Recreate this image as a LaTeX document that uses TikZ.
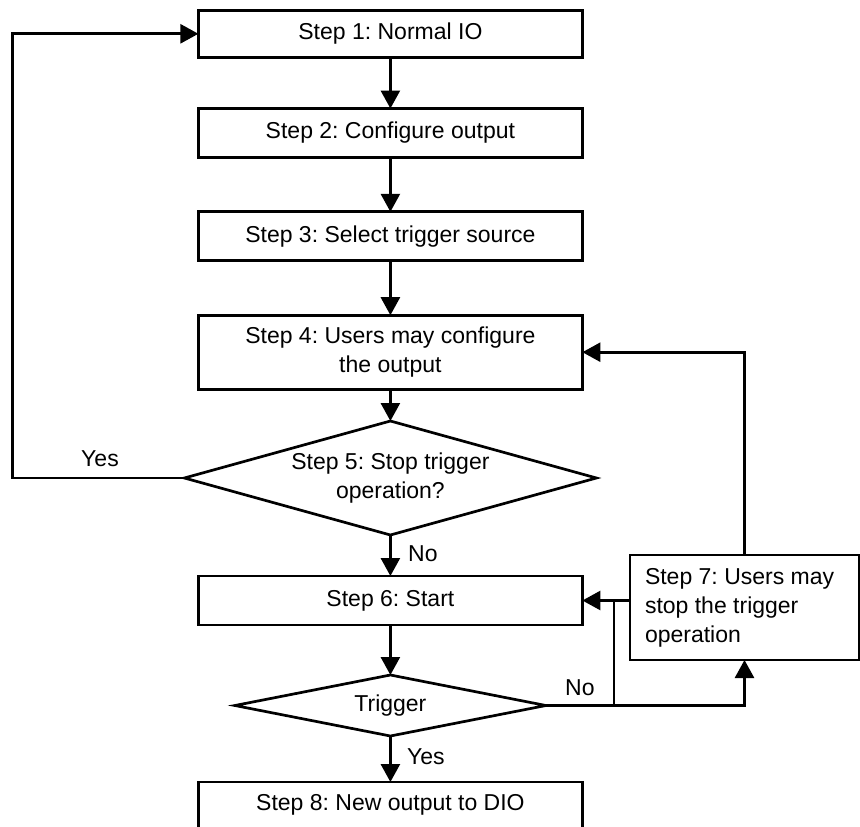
\documentclass[tikz,border=0pt]{standalone}
\usepackage{fontspec}
\setmainfont{Liberation Sans}
\usetikzlibrary{arrows.meta,shapes.geometric}
\frenchspacing
\begin{document}
\begin{tikzpicture}[x=1pt,y=-1pt,
  every node/.style={font=\fontsize{23}{29}\selectfont\frenchspacing},
  box/.style={draw, line width=2.7pt, rectangle, minimum width=384pt, inner sep=0pt, outer sep=0pt, align=center},
  dia/.style={draw, line width=2.7pt, diamond, inner sep=0pt, outer sep=0pt},
  arr/.style={line width=2.7pt, -{Triangle[length=18pt,width=19pt]}},
  ln/.style={line width=2.7pt},
  lbl/.style={inner sep=0pt}
]
\clip (0,0) rectangle (860,827);
\fill[white] (0,0) rectangle (860,827);

\node[box, minimum height=47pt] (s1) at (390.4,33.8) {Step 1: Normal IO};
\node[box, minimum height=49pt] (s2) at (390.4,133) {Step 2: Configure output};
\node[box, minimum height=49pt] (s3) at (390.4,236.3) {Step 3: Select trigger source};
\node[box, minimum height=74pt] (s4) at (390.4,352.2) {Step 4: Users may configure\\the output};
\node[dia, minimum width=412pt, minimum height=114pt] (d5) at (390.4,478) {};
\node[align=center] (t5) at (d5.center) {Step 5: Stop trigger\\operation?};
\node[box, minimum height=49pt] (s6) at (390.4,600.5) {Step 6: Start};
\node[draw, line width=2.7pt, minimum width=229pt, minimum height=105pt, text width=199pt, align=flush left, inner xsep=15pt, inner ysep=0pt, outer sep=0pt] (s7) at (744.5,607.5) {Step 7: Users may\\stop the trigger\\operation};
\node[dia, minimum width=311pt, minimum height=61pt] (dt) at (390.4,705.5) {};
\node (tt) at (dt.center) {Trigger};
\node[box, minimum height=46pt] (s8) at (390.4,805) {Step 8: New output to DIO};

\draw[arr] (s1.south) -- (s1.south |- s2.north);
\draw[arr] (s2.south) -- (s2.south |- s3.north);
\draw[arr] (s3.south) -- (s3.south |- s4.north);
\draw[arr] (s4.south) -- (s4.south |- d5.north);
\coordinate (lx) at (12.5,478);
\draw[arr] (d5.west) -- (lx) |- (s1.west);
\node[lbl] (y5) at (100,459) {Yes};
\draw[arr] (d5.south) -- (d5.south |- s6.north);
\node[lbl, anchor=west] (n5) at (408,553.5) {No};
\draw[arr] (s6.south) -- (s6.south |- dt.north);
\draw[arr] (dt.south) -- (dt.south |- s8.north);
\node[lbl, anchor=west] (y6) at (407,757) {Yes};
\draw[arr] (dt.east) -| (s7.south);
\node[lbl, anchor=west] (nt) at (565,687.5) {No};
\coordinate (jn) at (614,600.5);
\draw[ln] (dt.east -| jn) -- (jn);
\draw[arr] (s7.west |- s6.east) -- (s6.east);
\draw[arr] (s7.north) |- (s4.east);
\end{tikzpicture}
\end{document}
